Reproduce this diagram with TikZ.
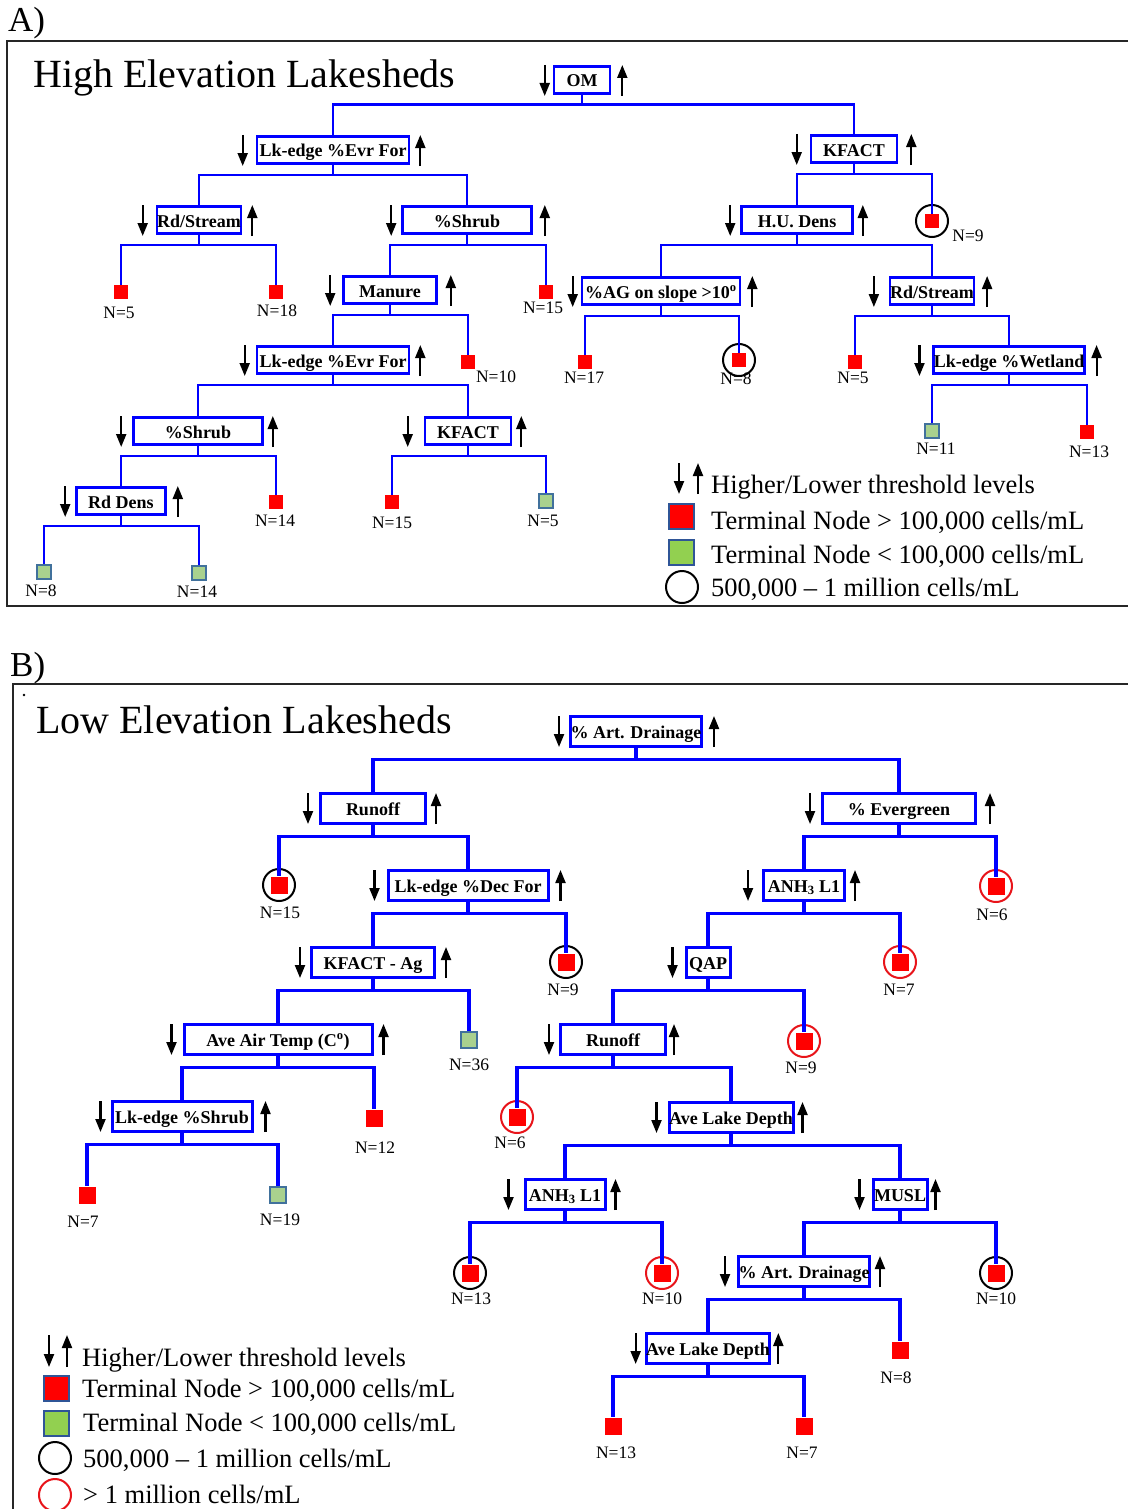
\documentclass[tikz,border=0pt]{standalone}
\usepackage{fontspec}
\setmainfont{Liberation Serif}
\usetikzlibrary{arrows.meta}

\begin{document}
\begin{tikzpicture}[x=1pt, y=-1pt,
    splitboxA/.style={draw=treeBlue, fill=white, line width=2.6, inner sep=0pt,
      minimum height=27, text height=15pt, text depth=1pt,
      font=\bfseries\fontsize{18}{20}\selectfont},
    splitboxB/.style={splitboxA, line width=3, minimum height=30},
    edgeA/.style={draw=treeBlue, line width=2.6},
    edgeB/.style={draw=treeBlue, line width=3.3},
    redleafA/.style={fill=leafRed, minimum size=14, inner sep=0pt},
    greenleafA/.style={fill=leafGreen, draw=leafEdge, line width=1.3, minimum size=14, inner sep=0pt},
    redleafB/.style={redleafA, minimum size=17},
    greenleafB/.style={greenleafA, minimum size=16},
    ring/.style={circle, draw=black, line width=2, minimum size=32, inner sep=0pt},
    nlab/.style={inner sep=0pt, font=\fontsize{17.5}{19}\selectfont},
    thrarrow/.style={line width=2.1, -{Triangle[length=13pt, width=10pt]}},
    keytext/.style={anchor=base west, inner sep=0pt, font=\fontsize{26.5}{30}\selectfont},
    keybox/.style={draw=keyEdge, line width=2, minimum size=25, inner sep=0pt},
    headline/.style={anchor=base west, inner sep=0pt, font=\fontsize{40}{44}\selectfont},
    panel/.style={anchor=base west, inner sep=0pt, font=\fontsize{35}{38}\selectfont},
    frame/.style={draw=black!85, line width=1.6}]

    \definecolor{treeBlue}{HTML}{0000FF}
    \definecolor{leafRed}{HTML}{FF0000}
    \definecolor{leafGreen}{HTML}{A9D18E}
    \definecolor{leafEdge}{HTML}{41719C}
    \definecolor{keyGreen}{HTML}{92D050}
    \definecolor{keyEdge}{HTML}{2F5597}
    \definecolor{ringRed}{HTML}{E8141A}

    \useasboundingbox[fill=white] (0,0) rectangle (1128,1509);

    % ---------------- Panel A ----------------
    \node[panel] (labA) at (8,32) {A)};
    \draw[frame] (1128,41) -- (7,41) -- (7,606) -- (1128,606);
    \node[headline] (titleA) at (33,88) {High Elevation Lakesheds};

    % Split boxes
    \node[splitboxA, minimum width=56] (om) at (582,80) {OM};
    \node[splitboxA, minimum width=152] (lka) at (333,150) {Lk-edge \%Evr For};
    \node[splitboxA, minimum width=86] (kfa) at (854,149) {KFACT};
    \node[splitboxA, minimum width=84] (rsa) at (199,220) {Rd/Stream};
    \node[splitboxA, minimum width=129] (sha) at (467,220) {\%Shrub};
    \node[splitboxA, minimum width=111] (hua) at (797,220) {H.U. Dens};
    \node[splitboxA, minimum width=93] (mna) at (390,290) {Manure};
    \node[splitboxA, minimum width=158] (aga) at (661,291) {\%AG on slope >10\textsuperscript{o}};
    \node[splitboxA, minimum width=81] (rsb) at (932,291) {Rd/Stream};
    \node[splitboxA, minimum width=152] (lkb) at (333,360) {Lk-edge \%Evr For};
    \node[splitboxA, minimum width=149] (lwa) at (1009,360) {Lk-edge \%Wetland};
    \node[splitboxA, minimum width=129] (shb) at (198,431) {\%Shrub};
    \node[splitboxA, minimum width=86] (kfb) at (468,431) {KFACT};
    \node[splitboxA, minimum width=89] (rda) at (121,501) {Rd Dens};

    % Terminal nodes
    \foreach \n/\x/\y in {l5/932/221, l7/739/360}
        \node[ring] (\n r) at (\x,\y) {};
    \foreach \n/\x/\y in {l1/121/292, l2/276/292, l3/546/292, l4/468/362, l5/932/221,
                          l6/585/362, l7/739/360, l8/855/362, l10/1087/432, l11/276/502, l12/392/502}
        \node[redleafA] (\n) at (\x,\y) {};
    \foreach \n/\x/\y in {l9/932/431, l13/546/501, l14/44/572, l15/199/573}
        \node[greenleafA] (\n) at (\x,\y) {};
    \foreach \n/\x/\y/\v in {t1/119/313/5, t2/277/311/18, t3/543/308/15, t4/496/377/10,
                             t5/968/236/9, t6/584/378/17, t7/736/379/8, t8/853/378/5,
                             t9/936/449/11, t10/1089/452/13, t11/275/521/14, t12/392/523/15,
                             t13/543/521/5, t14/41/591/8, t15/197/592/14}
        \node[nlab] (\n) at (\x,\y) {N=\v};

    % Branches
    \foreach \p/\l/\r in {om/lka/kfa, lka/rsa/sha, rsa/l1/l2, sha/mna/l3, mna/lkb/l4,
                          lkb/shb/kfb, shb/rda/l11, rda/l14/l15, kfb/l12/l13,
                          kfa/hua/l5, hua/aga/rsb, aga/l6/l7, rsb/l8/lwa, lwa/l9/l10}{
        \draw[edgeA] (\p.south) -- ++(0,10) -| (\l.north);
        \draw[edgeA] (\p.south) -- ++(0,10) -| (\r.north);
    }

    % Threshold arrows
    \foreach \n/\gl/\gr in {om/8/11, lka/13/10, kfa/13/13, rsa/13/10, sha/10/12, hua/10/9,
                            mna/12/13, aga/8/11, rsb/15/12, lkb/11/10, lwa/13/11, shb/11/9,
                            kfb/16/9, rda/10/11}{
        \draw[thrarrow] ([xshift=-\gl pt, yshift=15pt]\n.west) -- ([xshift=-\gl pt, yshift=-16pt]\n.west);
        \draw[thrarrow] ([xshift=\gr pt, yshift=-16pt]\n.east) -- ([xshift=\gr pt, yshift=15pt]\n.east);
    }

    % Legend A
    \draw[thrarrow] (679,463) -- (679,494);
    \draw[thrarrow] (698,494) -- (698,463);
    \node[keytext] (keyA1) at (711,493) {Higher/Lower threshold levels};
    \node[keybox, fill=leafRed] (keyA2) at (681,516) {};
    \node[keytext] (keyA3) at (711,529) {Terminal Node > 100,000 cells/mL};
    \node[keybox, fill=keyGreen] (keyA4) at (681,552) {};
    \node[keytext] (keyA5) at (711,563) {Terminal Node < 100,000 cells/mL};
    \node[ring] (keyA6) at (682,587) {};
    \node[keytext] (keyA7) at (711,596) {500,000 -- 1 million cells/mL};

    % ---------------- Panel B ----------------
    \node[panel] (labB) at (10,676) {B)};
    \draw[frame] (1128,684) -- (13,684) -- (13,1509);
    \fill (24,695) circle (1.3);
    \node[headline] (titleB) at (36,733) {Low Elevation Lakesheds};

    % Split boxes
    \node[splitboxB, minimum width=129] (ada) at (636,731) {\% Art. Drainage};
    \node[splitboxB, minimum width=105] (rua) at (373,808) {Runoff};
    \node[splitboxB, minimum width=153] (eva) at (899,808) {\% Evergreen};
    \node[splitboxB, minimum width=160] (lda) at (468,885) {Lk-edge \%Dec For};
    \node[splitboxB, minimum width=81] (ana) at (804,885) {ANH\textsubscript{3} L1};
    \node[splitboxB, minimum width=123] (kag) at (373,962) {KFACT - Ag};
    \node[splitboxB, minimum width=44] (qap) at (708,962) {QAP};
    \node[splitboxB, minimum width=188] (aat) at (278,1039) {Ave Air Temp (C\textsuperscript{o})};
    \node[splitboxB, minimum width=105] (rub) at (613,1039) {Runoff};
    \node[splitboxB, minimum width=140] (lsh) at (182,1116) {Lk-edge \%Shrub};
    \node[splitboxB, minimum width=124] (ala) at (731,1117) {Ave Lake Depth};
    \node[splitboxB, minimum width=80] (anb) at (565,1194) {ANH\textsubscript{3} L1};
    \node[splitboxB, minimum width=54] (mus) at (900,1194) {MUSL};
    \node[splitboxB, minimum width=129] (adb) at (804,1271) {\% Art. Drainage};
    \node[splitboxB, minimum width=123] (alb) at (708,1348) {Ave Lake Depth};

    % Terminal nodes
    \foreach \n/\x/\y in {m1/279/885, m2/566/962, m11/470/1273, m13/996/1273}
        \node[ring] (\n r) at (\x,\y) {};
    \foreach \n/\x/\y in {m7/996/886, m8/900/962, m9/804/1041, m10/517/1117, m12/662/1273}
        \node[ring, draw=ringRed] (\n r) at (\x,\y) {};
    \foreach \n/\x/\y in {m1/279/885, m2/566/962, m4/374/1118, m5/87/1195, m7/996/886,
                          m8/900/962, m9/804/1041, m10/517/1117, m11/470/1273, m12/662/1273,
                          m13/996/1273, m14/900/1350, m15/613/1426, m16/804/1426}
        \node[redleafB] (\n) at (\x,\y) {};
    \foreach \n/\x/\y in {m3/469/1040, m6/278/1195}
        \node[greenleafB] (\n) at (\x,\y) {};
    \foreach \n/\x/\y/\v in {u1/280/913/15, u2/563/990/9, u3/469/1065/36, u4/375/1148/12,
                             u5/83/1222/7, u6/280/1220/19, u7/992/915/6, u8/899/990/7,
                             u9/801/1068/9, u10/510/1143/6, u11/471/1299/13, u12/662/1299/10,
                             u13/996/1299/10, u14/896/1378/8, u15/616/1453/13, u16/802/1453/7}
        \node[nlab] (\n) at (\x,\y) {N=\v};

    % Branches
    \foreach \p/\l/\r in {ada/rua/eva, rua/m1/lda, lda/kag/m2, kag/aat/m3, aat/lsh/m4,
                          lsh/m5/m6, eva/ana/m7, ana/qap/m8, qap/rub/m9, rub/m10/ala,
                          ala/anb/mus, anb/m11/m12, mus/adb/m13, adb/alb/m14, alb/m15/m16}{
        \draw[edgeB] (\p.south) -- ++(0,12) -| (\l.north);
        \draw[edgeB] (\p.south) -- ++(0,12) -| (\r.north);
    }

    % Threshold arrows
    \foreach \n/\gl/\gr in {ada/10/11, rua/11/9, eva/11/13, lda/12/11, ana/14/9, kag/10/10,
                            aat/11/10, rub/10/7, lsh/10/12, ala/11/8, anb/15/9, mus/12/7,
                            adb/12/9, alb/9/7}{
        \draw[thrarrow] ([xshift=-\gl pt, yshift=15pt]\n.west) -- ([xshift=-\gl pt, yshift=-16pt]\n.west);
        \draw[thrarrow] ([xshift=\gr pt, yshift=-16pt]\n.east) -- ([xshift=\gr pt, yshift=15pt]\n.east);
    }
    \draw[thrarrow] ([xshift=-12pt, yshift=15pt]qap.west) -- ([xshift=-12pt, yshift=-16pt]qap.west);

    % Legend B
    \draw[thrarrow] (49,1335) -- (49,1367);
    \draw[thrarrow] (67,1367) -- (67,1335);
    \node[keytext] (keyB1) at (82,1366) {Higher/Lower threshold levels};
    \node[keybox, fill=leafRed] (keyB2) at (56,1388) {};
    \node[keytext] (keyB3) at (82,1397) {Terminal Node > 100,000 cells/mL};
    \node[keybox, fill=keyGreen] (keyB4) at (56,1423) {};
    \node[keytext] (keyB5) at (83,1431) {Terminal Node < 100,000 cells/mL};
    \node[ring] (keyB6) at (55,1458) {};
    \node[keytext] (keyB7) at (83,1467) {500,000 -- 1 million cells/mL};
    \node[ring, draw=ringRed] (keyB8) at (55,1495) {};
    \node[keytext] (keyB9) at (83,1503) {> 1 million cells/mL};
\end{tikzpicture}
\end{document}
